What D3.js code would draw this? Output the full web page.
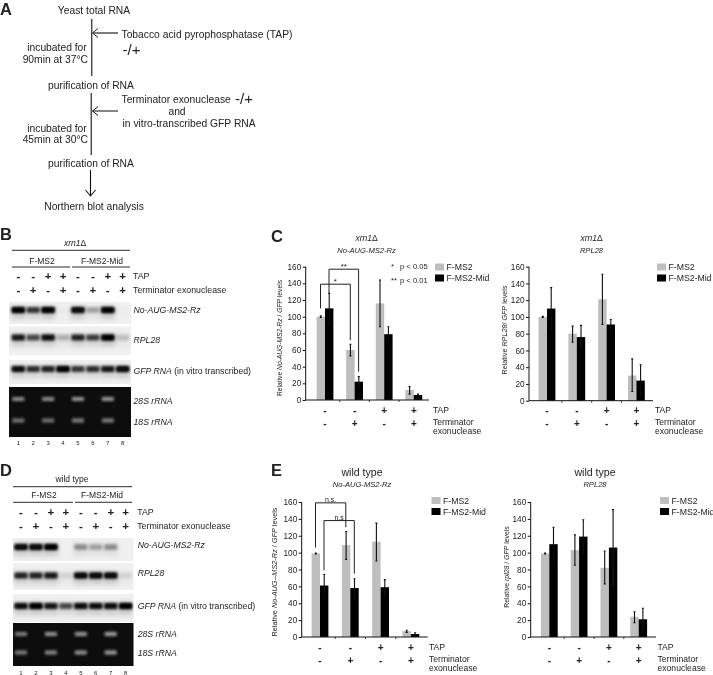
<!DOCTYPE html>
<html><head><meta charset="utf-8">
<script src="https://cdn.jsdelivr.net/npm/d3@7/dist/d3.min.js"></script>
<style>
html,body{margin:0;padding:0;background:#fff}
svg{display:block}
text{font-family:"Liberation Sans",Arial,sans-serif;fill:#222}
</style></head><body>
<script>
// ---- data ----
const groups = ["g1","g2","g3","g4"];
const seriesNames = ["F-MS2","F-MS2-Mid"];
const tapSigns = ["-","-","+","+"];
const exoSigns = ["-","+","-","+"];
const yTicks = [0,20,40,60,80,100,120,140,160];

const cGray = [100,60,116,12];
const cGrayLo = [99,53,88,7];
const cGrayHi = [101,67,144,16];
const cBlack = [110,22,79,6];
const cBlackLo = [92,16,70,4];
const cBlackHi = [128,28,88,7];

const c2Gray = [100,80,121,30];
const c2GrayLo = [99.3,70,91,11];
const c2GrayHi = [100.7,89,151,50];
const c2Black = [110,76,91,24];
const c2BlackLo = [85,62,85,5];
const c2BlackHi = [135,90,97,43];

const eGray = [99,109,113,7];
const eGrayLo = [98.5,92,90,5.5];
const eGrayHi = [99.5,125,135,8];
const eBlack = [61,58,59,3.5];
const eBlackLo = [48,47,49,2];
const eBlackHi = [74,69,68,5];

const e2Gray = [99,103,82,24];
const e2GrayLo = [98.5,85,63,17];
const e2GrayHi = [99.5,121,102,30];
const e2Black = [110,119,106,21];
const e2BlackLo = [90,99,61,8];
const e2BlackHi = [130,139,151,34];

const lanes = ["1","2","3","4","5","6","7","8"];
const laneTap = ["-","-","+","+","-","-","+","+"];
const laneExo = ["-","+","-","+","-","+","-","+"];
const bNoAug = [1,.72,1,.04,.95,.35,1,.03];
const bRpl = [.85,.65,.9,.3,.8,.7,1,.25];
const bGfp = [.9,.75,.8,1,.72,.75,.85,.95];
const b28 = [.6,0,.6,0,.65,0,.65,0];
const b18 = [.5,0,.5,0,.55,0,.55,0];
const dNoAug = [.95,.95,1,0,.42,.35,.42,0];
const dRpl = [.8,.8,.85,.15,.95,.95,.95,.15];
const dGfp = [.9,1,.85,.65,.9,.9,.9,1];
const d28 = [.55,0,.65,0,.65,0,.7,0];
const d18 = [.55,0,.6,0,.65,0,.7,0];

// ---- page ----
const root = d3.select("body").append("svg").attr("width",713).attr("height",675);
const defs = root.append("defs");
[["blur1",1.4],["blur2",2.4]].forEach(([id,s])=>{
  defs.append("filter").attr("id",id).attr("x","-30%").attr("y","-100%").attr("width","160%").attr("height","300%")
    .append("feGaussianBlur").attr("stdDeviation",s);
});
defs.append("filter").attr("id","soft").attr("filterUnits","userSpaceOnUse")
  .attr("x",0).attr("y",0).attr("width",713).attr("height",675)
  .append("feGaussianBlur").attr("stdDeviation",0.35);
const svg = root.append("g").attr("filter","url(#soft)");
svg.append("rect").attr("width",713).attr("height",675).attr("fill","#fff");

function txt(x,y,parts,o={}){
  const t = svg.append("text").attr("x",x).attr("y",y)
    .attr("font-size",o.size||10.3).attr("text-anchor",o.anchor||"start")
    .attr("dominant-baseline","central");
  if(o.weight) t.attr("font-weight",o.weight);
  if(o.transform) t.attr("transform",o.transform);
  (Array.isArray(parts)?parts:[[parts,false]]).forEach(([s,it])=>{
    t.append("tspan").attr("font-style",it?"italic":"normal").text(s);
  });
  return t;
}
function seg(pts,o={}){
  svg.append("path").attr("d",d3.line()(pts)).attr("fill","none")
    .attr("stroke",o.color||"#111").attr("stroke-width",o.w||1);
}

// ---- panel A ----
txt(0,9,"A",{size:16.5,weight:"bold"});
txt(94,10,"Yeast total RNA",{anchor:"middle"});
seg([[91.7,19],[91.7,76]],{color:"#444",w:1.4});
seg([[118,33],[93,33]],{color:"#444",w:1.4});
seg([[98,28.5],[92.5,33],[98,37.5]],{color:"#222",w:1});
txt(121.5,34,"Tobacco acid pyrophosphatase (TAP)");
txt(122.5,49,"-/+",{size:15});
txt(57,47,"incubated for",{anchor:"middle"});
txt(88,58.5,"90min at 37°C",{anchor:"end"});
txt(91,84.5,"purification of RNA",{anchor:"middle"});
seg([[91.2,93],[91.2,155]],{w:1.1});
seg([[118,111],[92.5,111]],{color:"#222",w:1.1});
seg([[98,106.5],[92.5,111],[98,115.5]],{w:1});
txt(121.5,99,"Terminator exonuclease");
txt(235,98,"-/+",{size:15});
txt(177,111,"and",{anchor:"middle"});
txt(122.5,122.5,"in vitro-transcribed GFP RNA");
txt(57,127.5,"incubated for",{anchor:"middle"});
txt(88,139,"45min at 30°C",{anchor:"end"});
txt(91,163,"purification of RNA",{anchor:"middle"});
seg([[90.5,170],[90.5,195]],{w:1.1});
seg([[85.5,190],[90.5,196],[95.5,190]],{w:1.1});
txt(94,206,"Northern blot analysis",{anchor:"middle"});

// ---- blots ----
function gel(laneX,x0,x1,y0,y1,bandY,vals,o={}){
  const id="c"+Math.round(y0)+"_"+Math.round(x0);
  defs.append("clipPath").attr("id",id).append("rect").attr("x",x0).attr("y",y0).attr("width",x1-x0).attr("height",y1-y0);
  svg.append("rect").attr("x",x0).attr("y",y0).attr("width",x1-x0).attr("height",y1-y0).attr("fill",o.bg||"#f0f0f0");
  const g = svg.append("g").attr("clip-path",`url(#${id})`);
  (o.rows||[[bandY,vals]]).forEach(([by,vs])=>{
    if(!o.dark){
      g.selectAll(null).data(vs).join("rect")
        .attr("x",(d,i)=>laneX(lanes[i])-7).attr("width",14)
        .attr("y",by-4).attr("height",13).attr("filter","url(#blur2)")
        .attr("fill","#888").attr("opacity",d=>d*0.38);
      g.selectAll(null).data(vs).join("rect")
        .attr("x",(d,i)=>laneX(lanes[i])-6.5).attr("width",13)
        .attr("y",by-3).attr("height",6).attr("filter","url(#blur1)")
        .attr("fill","#000").attr("opacity",d=>d*(0.4+0.6*d));
      g.selectAll(null).data(vs).join("rect")
        .attr("x",(d,i)=>laneX(lanes[i])-6).attr("width",12)
        .attr("y",by-2).attr("height",4).attr("filter","url(#blur1)")
        .attr("fill","#000").attr("opacity",d=>d*d*0.9);
    } else {
      g.selectAll(null).data(vs).join("rect")
        .attr("x",(d,i)=>laneX(lanes[i])-6).attr("width",12)
        .attr("y",by-2).attr("height",4).attr("filter","url(#blur1)")
        .attr("fill","#e6e6e6").attr("opacity",d=>d);
    }
  });
}
function blot(p){
  txt(p.letterX,p.letterY,p.letter,{size:16.5,weight:"bold"});
  txt(p.titleX,p.titleY,p.title,{anchor:"middle",size:8.5});
  seg([[p.lineX0,p.lineY],[p.lineX1,p.lineY]],{w:.9});
  txt(p.f1X,p.fY,seriesNames[0],{anchor:"middle",size:8.5});
  txt(p.f2X,p.fY,seriesNames[1],{anchor:"middle",size:8.5});
  seg([[p.lineX0,p.lineY2],[p.midX-1,p.lineY2]],{w:.9});
  seg([[p.midX+1,p.lineY2],[p.lineX1,p.lineY2]],{w:.9});
  const lx = d3.scalePoint().domain(lanes).range(p.laneRange);
  laneTap.forEach((s,i)=>txt(lx(lanes[i]),p.s1Y,s,{anchor:"middle",size:11.5,weight:"bold"}));
  laneExo.forEach((s,i)=>txt(lx(lanes[i]),p.s2Y,s,{anchor:"middle",size:11.5,weight:"bold"}));
  txt(p.labX-.5,p.s1Y,"TAP",{size:8.8});
  txt(p.labX-.5,p.s2Y,"Terminator exonuclease",{size:8.8});
  p.gels.forEach(g=>gel(lx,p.gx0,p.gx1,g.y0,g.y1,g.band,g.vals));
  gel(lx,p.gx0,p.gx1,p.dy0,p.dy1,0,null,{bg:"#0c0c0c",dark:true,rows:p.darkRows});
  lanes.forEach(l=>txt(lx(l),p.numY,l,{anchor:"middle",size:6}));
  txt(p.labX,p.lab[0],[["No-AUG-MS2-Rz",true]],{size:8.7});
  txt(p.labX,p.lab[1],[["RPL28",true]],{size:8.7});
  txt(p.labX,p.lab[2],[["GFP RNA",true],[" (in vitro transcribed)",false]],{size:8.7});
  txt(p.labX,p.lab[3],[["28S rRNA",true]],{size:8.7});
  txt(p.labX,p.lab[4],[["18S rRNA",true]],{size:8.7});
}
blot({letter:"B",letterX:0,letterY:234,title:[["xrn1",true],["Δ",false]],titleX:75,titleY:243,
  lineX0:12,lineX1:130,lineY:250.3,midX:71,lineY2:267,f1X:42,f2X:102,fY:261,s1Y:276,s2Y:290,
  laneRange:[18.3,122.7],labX:133.5,numY:443,gx0:9,gx1:131,
  gels:[{y0:302,y1:324,band:310,vals:bNoAug},{y0:326.5,y1:355,band:337.5,vals:bRpl},{y0:360,y1:384,band:369,vals:bGfp}],
  dy0:387,dy1:437,darkRows:[[399,b28],[420.5,b18]],lab:[310,339.5,371,400.5,422]});
blot({letter:"D",letterX:0,letterY:470,title:"wild type",titleX:72,titleY:479,
  lineX0:13,lineX1:132,lineY:486.7,midX:74,lineY2:502.3,f1X:44,f2X:102,fY:495,s1Y:512,s2Y:526,
  laneRange:[21,125.7],labX:137.7,numY:673,gx0:13,gx1:133.5,
  gels:[{y0:538,y1:561,band:547,vals:dNoAug},{y0:563,y1:590,band:575.5,vals:dRpl},{y0:594,y1:622,band:606,vals:dGfp}],
  dy0:623,dy1:666,darkRows:[[634,d28],[652.5,d18]],lab:[545,573,605.5,633.5,652.5]});

// ---- bar charts ----
function chart(p){
  const y = d3.scaleLinear().domain([0,160]).range([p.y0,p.y160]);
  const step = p.step;
  const x = d3.scaleBand().domain(groups).range([p.c1-step/2,p.c1+step*3.5]).paddingInner(0).paddingOuter(0);
  const bw = 8.4;
  const g = svg.append("g");
  const axis = d3.axisLeft(y).tickValues(yTicks).tickSize(3).tickPadding(1.5).tickFormat(d3.format("d"));
  const ag = g.append("g").attr("transform",`translate(${p.ax},0)`).call(axis);
  ag.select(".domain").attr("stroke","#111").attr("d",`M0,${p.y0}V${p.y160}`).attr("stroke-width",1);
  ag.selectAll("line").attr("stroke","#111");
  ag.selectAll("text").attr("font-size",8.2).attr("font-family","Liberation Sans").style("fill","#222");
  const series = [
    {c:"#bebebe",v:p.gray,lo:p.grayLo,hi:p.grayHi,dx:-bw},
    {c:"#000",v:p.black,lo:p.blackLo,hi:p.blackHi,dx:0}];
  series.forEach(s=>{
    g.selectAll(null).data(s.v).join("rect")
      .attr("x",(d,i)=>x(groups[i])+step/2+s.dx).attr("width",bw)
      .attr("y",d=>y(d)).attr("height",d=>y(0)-y(d)).attr("fill",s.c);
  });
  g.append("path").attr("d",`M${p.ax},${p.y0}H${p.axEnd}`).attr("stroke","#111").attr("stroke-width",1);
  groups.slice(1).forEach(k=>{
    g.append("path").attr("d",`M${x(k)},${p.y0}v2`).attr("stroke","#111").attr("stroke-width",.8);
  });
  series.forEach(s=>{
    s.v.forEach((d,i)=>{
      const cx = x(groups[i])+step/2+s.dx+bw/2;
      g.append("path").attr("d",`M${cx},${y(s.lo[i])}V${y(s.hi[i])}M${cx-1},${y(s.lo[i])}h2M${cx-1},${y(s.hi[i])}h2`)
        .attr("stroke","#111").attr("stroke-width",1.1).attr("fill","none");
    });
  });
  const cx = k=>x(k)+step/2;
  tapSigns.forEach((s,i)=>txt(cx(groups[i]),p.s1,s,{anchor:"middle",size:10,weight:"bold"}));
  exoSigns.forEach((s,i)=>txt(cx(groups[i]),p.s2,s,{anchor:"middle",size:10,weight:"bold"}));
  txt(p.labX,p.s1,"TAP",{size:8.6});
  txt(p.labX,p.s2-1,"Terminator",{size:8.6});
  txt(p.labX,p.s2+8,"exonuclease",{size:8.6});
  txt(p.tx,p.ty,p.title,{anchor:"middle",size:p.titleSize||8.5});
  txt(p.tx,p.ty+12,[[p.sub,true]],{anchor:"middle",size:7.6});
  txt(0,0,p.ytitle,{anchor:"middle",size:p.ytSize||7.2,transform:`translate(${p.ytx},${p.yty}) rotate(-90)`});
  g.append("rect").attr("x",p.lx).attr("y",p.ly-3.5).attr("width",9).attr("height",7).attr("fill","#bebebe");
  g.append("rect").attr("x",p.lx).attr("y",p.ly+7.5).attr("width",9).attr("height",7).attr("fill","#000");
  txt(p.lx+11.5,p.ly,seriesNames[0],{size:8.7});
  txt(p.lx+11.5,p.ly+11,seriesNames[1],{size:8.7});
  (p.brackets||[]).forEach(b=>{
    const x0=cx(groups[b.from])+b.fromDx, x1=cx(groups[b.to])+b.toDx;
    g.append("path").attr("d",d3.line()([[x0,y(b.v0)],[x0,y(b.top)],[x1,y(b.top)],[x1,y(b.v1)]]))
      .attr("fill","none").attr("stroke","#222").attr("stroke-width",1);
    txt((x0+x1)/2,y(b.top)-3.5,b.label,{anchor:"middle",size:b.size});
  });
  (p.notes||[]).forEach(n=>txt(n[0],n[1],n[2],{size:7.6}));
}
chart({ax:305.7,axEnd:429,y0:400,y160:266.7,c1:325,step:29.6,
  gray:cGray,grayLo:cGrayLo,grayHi:cGrayHi,black:cBlack,blackLo:cBlackLo,blackHi:cBlackHi,
  s1:410,s2:423,labX:433,tx:366.5,ty:238,title:[["xrn1",true],["Δ",false]],sub:"No-AUG-MS2-Rz",
  ytitle:[["Relative ",false],["No-AUG-MS2-Rz",true],[" / ",false],["GFP",true],[" levels",false]],ytx:279,yty:338,ytSize:6.7,
  lx:435,ly:267,
  brackets:[{from:0,to:1,fromDx:-4.5,toDx:-4.3,v0:110,top:139,v1:72,label:"*",size:8},
            {from:0,to:1,fromDx:4,toDx:4,v0:128,top:157,v1:34,label:"**",size:8}],
  notes:[[391,266,"*"],[400,265.5,"p < 0.05"],[391,279.5,"**"],[400,279.5,"p < 0.01"]]});
chart({ax:529,axEnd:653,y0:400.7,y160:266.7,c1:547,step:29.8,
  gray:c2Gray,grayLo:c2GrayLo,grayHi:c2GrayHi,black:c2Black,blackLo:c2BlackLo,blackHi:c2BlackHi,
  s1:410,s2:423,labX:655,tx:591.5,ty:238,title:[["xrn1",true],["Δ",false]],sub:"RPL28",
  ytitle:[["Relative ",false],["RPL28",true],["/ ",false],["GFP",true],[" levels",false]],ytx:504,yty:330,
  lx:657,ly:267});
chart({ax:301.7,axEnd:427.7,y0:637,y160:502,c1:320,step:30.3,
  gray:eGray,grayLo:eGrayLo,grayHi:eGrayHi,black:eBlack,blackLo:eBlackLo,blackHi:eBlackHi,
  s1:647,s2:660,labX:429,tx:362,ty:472,title:"wild type",titleSize:10.6,sub:"No-AUG-MS2-Rz",
  ytitle:[["Relative ",false],["No-AUG--MS2-Rz",true],[" / ",false],["GFP",true],["  levels",false]],ytx:274,yty:572,ytSize:7.3,
  lx:431.5,ly:500.5,
  brackets:[{from:0,to:1,fromDx:-4.5,toDx:-4.5,v0:106,top:159,v1:130,label:"n.s.",size:7},
            {from:0,to:1,fromDx:4,toDx:4,v0:79,top:138,v1:75,label:"n.s",size:7}]});
chart({ax:530.7,axEnd:656,y0:637,y160:502,c1:549.3,step:29.8,
  gray:e2Gray,grayLo:e2GrayLo,grayHi:e2GrayHi,black:e2Black,blackLo:e2BlackLo,blackHi:e2BlackHi,
  s1:647,s2:660,labX:657.5,tx:595,ty:472,title:"wild type",titleSize:10.6,sub:"RPL28",
  ytitle:[["Relative ",false],["rpl28",true],[" / ",false],["GFP",true],[" levels",false]],ytx:506,yty:567,ytSize:6.9,
  lx:660,ly:500.5});
txt(271,236,"C",{size:16.5,weight:"bold"});
txt(271,470,"E",{size:16.5,weight:"bold"});
</script>
</body></html>
